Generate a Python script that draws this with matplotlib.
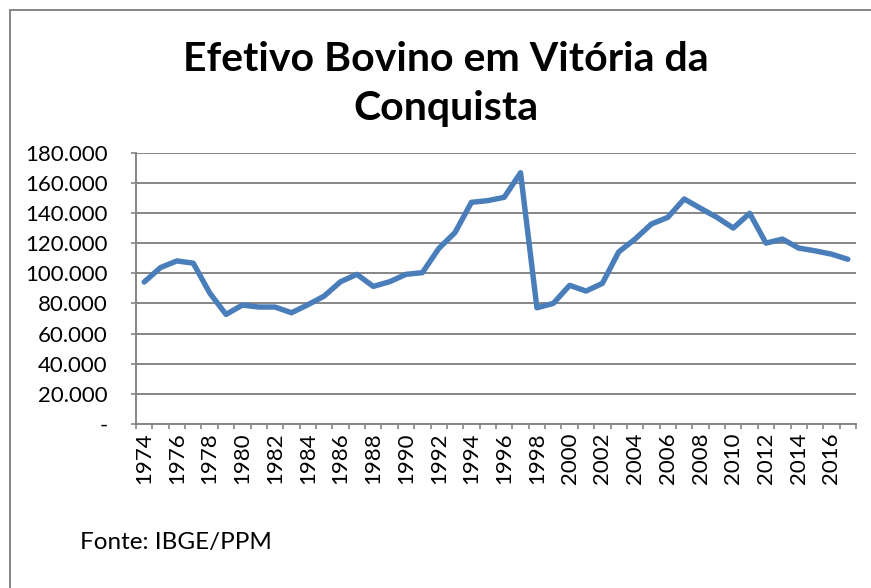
import matplotlib
matplotlib.use("Agg")
import matplotlib.pyplot as plt
from matplotlib.lines import Line2D
from matplotlib.ticker import FuncFormatter, FixedLocator

years = list(range(1974, 2018))
efetivo = [94200, 103800, 108200, 106700, 87000, 72700, 78900, 77600, 77600, 73800,
           79100, 84900, 94400, 99300, 91300, 94400, 99300, 100400, 116400, 127100,
           147100, 148200, 150400, 166700, 77100, 80000, 92000, 88200, 93300, 114200,
           122700, 132700, 137100, 149300, 143100, 137100, 130000, 139800, 120000, 122700,
           116700, 114900, 112700, 109300]
yticks = [0, 20000, 40000, 60000, 80000, 100000, 120000, 140000, 160000, 180000]
title = "Efetivo Bovino em Vitória da\nConquista"
fonte = "Fonte: IBGE/PPM"

FONT = ["Lato", "DejaVu Sans"]
W, H = 871, 588
fig = plt.figure(figsize=(W / 100, H / 100), dpi=100)
ax = fig.add_axes([136 / W, 1 - 424 / H, (856 - 136) / W, (424 - 152.7) / H])

xs = list(range(len(years)))
ax.plot(xs, efetivo, color="#4A7EBB", lw=3.9, solid_joinstyle="round", solid_capstyle="round", zorder=3)

ax.set_xlim(-0.5, len(years) - 0.5)
ax.set_ylim(0, 180000)
ax.set_yticks(yticks)
ax.yaxis.set_major_formatter(FuncFormatter(lambda v, p: "-" if v == 0 else f"{int(v):,}".replace(",", ".")))
ax.grid(axis="y", color="#868686", lw=1.4)
ax.set_axisbelow(True)

major = [i for i, y in enumerate(years) if y % 2 == 0]
ax.xaxis.set_major_locator(FixedLocator(major))
ax.set_xticklabels([str(years[i]) for i in major], rotation=90)
ax.xaxis.set_minor_locator(FixedLocator([i - 0.5 for i in range(len(years) + 1)]))
ax.tick_params(axis="x", which="major", length=0, pad=6)
ax.tick_params(axis="x", which="minor", length=3.6, width=1.2, color="#868686", direction="out")
ax.tick_params(axis="y", length=3.6, width=1.2, color="#868686", pad=17)
for lab in ax.get_xticklabels() + ax.get_yticklabels():
    lab.set_family(FONT)
    lab.set_fontsize(16)
    lab.set_color("#000000")
for lab in ax.get_yticklabels():
    lab.set_horizontalalignment("right")

for s in ["top", "right"]:
    ax.spines[s].set_visible(False)
for s in ["left", "bottom"]:
    ax.spines[s].set_color("#868686")
    ax.spines[s].set_linewidth(1.4)

fig.text(446 / W, 1 - 84 / H, title, ha="center", va="center", fontsize=29.5,
         fontweight="bold", family=FONT, linespacing=1.4)
fig.text(80 / W, 1 - 543 / H, fonte, ha="left", va="center", fontsize=17.5, family=FONT)

fig.add_artist(Line2D([10 / W, 10 / W], [1 - 10 / H, 0], transform=fig.transFigure, color="#868686", lw=1.4))
fig.add_artist(Line2D([10 / W, 1], [1 - 10 / H, 1 - 10 / H], transform=fig.transFigure, color="#868686", lw=1.4))

fig.savefig("out.png", dpi=100, facecolor="white")
